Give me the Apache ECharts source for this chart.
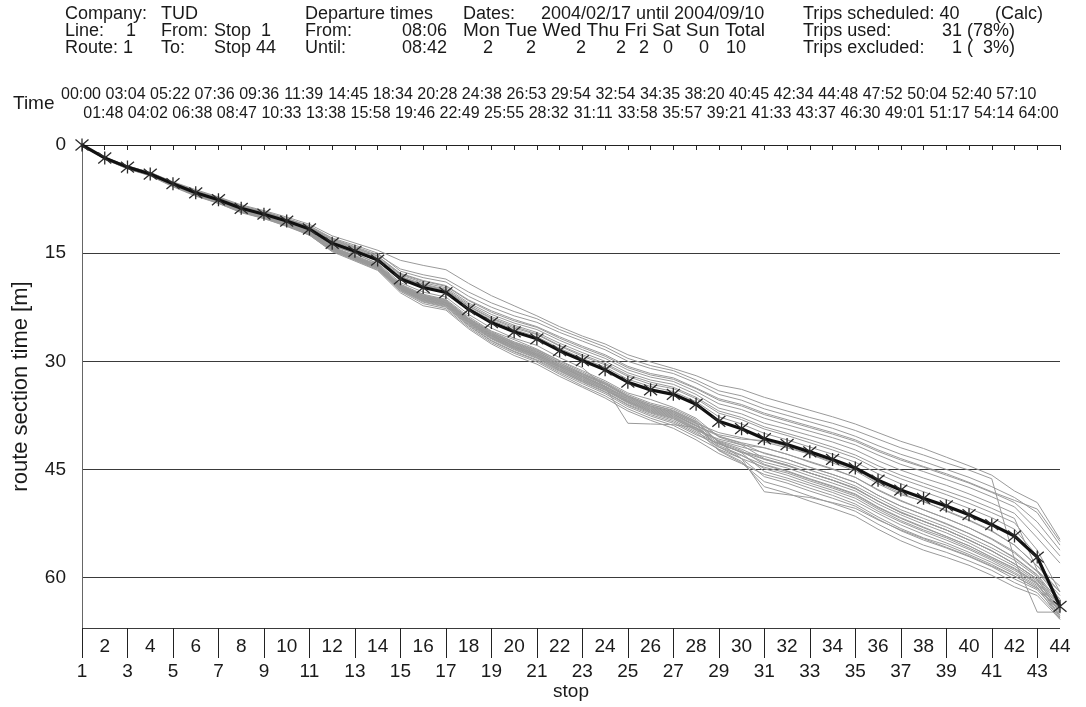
<!DOCTYPE html>
<html>
<head>
<meta charset="utf-8">
<script src="https://cdn.jsdelivr.net/npm/echarts@6.0.0/dist/echarts.min.js"></script>
<style>
  html, body { margin: 0; padding: 0; background: #ffffff; }
  #chart { width: 1086px; height: 707px; }
</style>
</head>
<body>
<div id="chart"></div>
<script>
// Stops along route 1 (x axis categories)
const stops = ['1','2','3','4','5','6','7','8','9','10','11','12','13','14','15','16','17','18','19','20','21','22',
  '23','24','25','26','27','28','29','30','31','32','33','34','35','36','37','38','39','40','41','42','43','44'];

// Average section time at each stop (mm:ss), also printed above the plot
const stopTimes = ['00:00','01:48','03:04','04:02','05:22','06:38','07:36','08:47','09:36','10:33','11:39',
  '13:38','14:45','15:58','18:34','19:46','20:28','22:49','24:38','25:55','26:53','28:32','29:54','31:11',
  '32:54','33:58','34:35','35:57','38:20','39:21','40:45','41:33','42:34','43:37','44:48','46:30','47:52',
  '49:01','50:04','51:17','52:40','54:14','57:10','64:00'];

const yTicks = [0, 15, 30, 45, 60];

// Individual trips: cumulative minutes at each stop
const tripU1 = [0,1.7,2.9,3.8,5.1,6.2,7.2,8.3,9.1,10.0,11.0,12.6,13.6,14.6,16.0,16.7,17.3,19.2,20.9,22.3,23.7,25.2,26.5,27.6,29.1,30.1,31.0,32.0,33.3,33.9,35.0,35.9,36.8,37.7,38.7,39.9,41.1,42.1,43.3,44.5,45.8,48.0,49.6,54.7];
const tripU2 = [0,1.8,3.0,3.9,5.2,6.4,7.3,8.5,9.3,10.2,11.3,13.0,14.1,15.2,17.2,18.0,18.6,20.4,21.9,23.1,24.1,25.6,26.8,28.0,29.6,30.6,31.3,32.6,34.1,34.8,36.0,36.9,37.8,38.6,39.6,40.8,42.0,43.0,44.1,45.1,46.3,57.5,64.8,64.8];
const tripU3 = [0,1.7,3.0,3.8,5.2,6.3,7.3,8.4,9.2,10.2,11.2,12.9,13.9,15.0,17.5,18.4,19.0,21.0,22.5,23.7,24.6,26.0,27.2,28.4,30.0,31.0,31.7,33.0,34.6,35.4,36.6,37.5,38.4,39.3,40.4,41.7,42.9,43.9,45.0,46.1,47.4,48.9,51.0,55.5];
const tripU4 = [0,1.9,3.1,4.0,5.3,6.5,7.4,8.6,9.4,10.3,11.4,13.2,14.3,15.4,17.9,18.9,19.6,21.6,23.2,24.4,25.3,26.8,28.1,29.3,30.9,31.9,32.5,33.8,35.4,36.2,37.4,38.3,39.2,40.1,41.1,42.5,43.7,44.7,45.8,46.9,48.2,49.6,52.3,56.2];
const tripU5 = [0,1.8,3.0,3.9,5.3,6.5,7.5,8.6,9.5,10.4,11.5,13.3,14.4,15.6,18.0,19.1,19.8,21.9,23.5,24.7,25.6,27.1,28.4,29.6,31.2,32.2,32.8,34.2,35.9,36.7,37.9,38.8,39.7,40.6,41.6,43.0,44.3,45.3,46.4,47.5,48.8,50.2,53.4,57.0];
const tripU6 = [0,1.8,3.1,4.0,5.4,6.6,7.6,8.7,9.5,10.5,11.6,13.4,14.5,15.7,18.2,19.3,20.0,22.1,23.8,25.0,26.0,27.5,28.8,30.0,31.6,32.6,33.2,34.6,36.5,37.3,38.6,39.4,40.3,41.2,42.3,43.8,45.1,46.2,47.2,48.4,49.7,51.1,54.5,58.0];
const tripU7 = [0,1.7,2.9,3.9,5.2,6.4,7.4,8.5,9.3,10.3,11.4,13.1,14.2,15.4,17.8,18.8,19.5,21.5,23.0,24.2,25.2,26.6,27.9,29.1,30.7,31.7,32.3,33.7,35.2,36.0,37.2,38.1,39.0,39.9,40.9,42.3,43.5,44.6,45.6,46.8,48.1,49.3,50.5,55.0];
const tripU8 = [0,1.9,3.2,4.1,5.5,6.7,7.7,8.8,9.7,10.6,11.7,13.5,14.6,15.8,18.3,19.4,20.1,22.3,24.0,25.2,26.2,27.8,29.1,30.3,31.9,32.9,33.6,35.0,36.9,37.8,39.1,40.0,40.9,41.9,43.0,44.5,45.8,46.9,48.0,49.1,50.4,51.8,59.0,62.0];
const tripU9 = [0,1.8,3.0,4.0,5.3,6.6,7.6,8.7,9.6,10.5,11.6,13.5,14.6,15.8,18.3,19.5,20.2,22.4,24.1,25.4,26.3,27.9,29.3,30.5,32.1,33.2,33.8,35.2,37.2,38.1,39.4,40.3,41.3,42.3,43.4,45.0,46.3,47.4,48.5,49.7,51.0,52.4,56.2,62.0];
const tripU10 = [0,1.8,3.1,4.1,5.4,6.6,7.6,8.8,9.6,10.6,11.7,13.6,14.8,16.0,18.5,19.6,20.3,22.6,24.3,25.6,26.6,28.2,29.6,30.8,32.5,33.5,34.2,35.6,37.7,38.7,40.0,40.9,41.9,42.9,44.0,45.6,47.0,48.1,49.2,50.4,51.7,53.3,57.0,63.5];
const tripL1 = [0,1.9,3.2,4.1,5.5,6.6,7.8,9.0,9.9,10.9,12.0,14.0,15.0,16.5,19.3,20.7,21.4,23.8,25.8,27.0,28.3,29.9,31.3,32.7,34.4,35.3,36.4,37.9,40.5,41.6,43.5,44.4,45.5,46.5,47.6,49.4,50.9,52.2,53.4,54.8,56.3,58.1,60.3,65.0];
const tripL2 = [0,1.8,3.1,4.0,5.5,6.7,7.7,8.9,9.8,10.8,12.0,14.1,15.3,16.6,19.4,20.8,21.5,24.0,25.9,27.3,28.4,30.0,31.5,32.9,34.6,35.8,36.6,38.1,41.3,42.7,45.3,46.2,47.2,48.2,49.4,51.1,52.7,54.0,55.2,56.5,57.9,59.5,61.3,65.8];
const tripL3 = [0,1.9,3.2,4.2,5.6,6.9,7.9,9.1,10.0,11.0,12.1,14.2,15.4,16.7,19.5,20.9,21.6,24.1,26.0,27.4,28.5,30.2,31.7,33.0,34.8,36.0,36.8,38.3,40.4,41.4,42.8,43.6,44.7,45.7,46.8,48.6,50.1,51.3,52.6,53.9,55.4,57.3,59.7,64.0];
const tripL4 = [0,1.8,3.1,4.1,5.5,6.8,7.8,9.0,9.9,10.9,12.1,14.2,15.5,16.7,19.6,21.0,21.7,24.2,26.2,27.6,28.7,30.4,31.8,33.2,34.9,36.2,37.0,38.5,42.3,43.9,47.4,48.3,49.4,50.4,51.5,53.3,54.9,56.2,57.2,58.3,59.7,61.3,62.5,65.8];
const tripL5 = [0,1.9,3.2,4.1,5.6,6.8,7.9,9.1,10.0,11.0,12.1,14.2,15.5,16.7,19.6,21.0,21.8,24.2,26.2,27.6,28.8,30.4,31.9,33.2,35.0,36.2,37.1,38.6,39.9,40.6,41.2,42.0,42.9,44.1,45.2,47.0,48.5,49.4,50.8,52.1,53.6,55.5,58.4,61.2];
const tripL6 = [0,1.8,3.2,4.1,5.6,6.9,7.9,9.1,10.0,11.0,12.2,14.3,15.5,16.8,19.6,21.1,21.8,24.3,26.3,27.7,28.9,30.5,32.0,33.4,35.1,36.3,37.2,38.7,41.2,42.4,44.3,45.2,46.3,47.3,48.4,50.2,51.7,53.0,54.3,55.6,57.2,58.8,60.8,63.8];
const tripL7 = [0,1.9,3.2,4.2,5.6,6.9,7.9,9.1,10.0,11.0,12.2,14.3,15.6,16.8,19.7,21.2,21.9,24.4,26.4,27.8,29.0,30.6,32.1,33.5,35.2,36.4,37.3,38.9,40.4,41.3,42.0,42.9,43.9,44.9,46.1,47.8,49.3,50.6,51.8,53.1,54.6,56.4,59.1,62.5];
const tripL8 = [0,1.8,3.1,4.1,5.5,6.8,7.9,9.1,10.0,11.1,12.2,14.3,15.6,16.9,19.7,21.2,21.9,24.4,26.4,27.9,29.0,30.7,32.1,33.5,35.3,36.5,37.4,38.9,41.9,43.5,46.0,46.9,48.0,49.0,50.1,51.9,53.5,54.8,55.9,57.1,58.5,60.2,61.7,65.2];
const tripL9 = [0,1.9,3.2,4.2,5.6,6.9,7.9,9.2,10.0,11.0,12.2,14.3,15.6,16.9,19.8,21.2,21.9,24.5,26.5,27.9,29.1,30.7,32.2,33.6,35.4,36.6,37.5,39.0,40.2,40.8,41.0,41.8,42.9,43.9,45.0,46.8,48.3,49.5,50.7,52.0,53.5,55.5,58.4,62.0];
const tripL10 = [0,1.8,3.2,4.2,5.6,6.9,7.9,9.2,10.0,11.1,12.2,14.4,15.6,16.9,19.8,21.3,22.0,24.5,26.5,28.0,29.2,30.8,32.3,33.7,35.5,36.7,37.6,39.2,41.1,42.2,43.6,44.5,45.5,46.5,47.7,49.4,51.0,52.2,53.4,54.8,56.3,58.1,60.2,63.0];
const tripL11 = [0,1.9,3.2,4.2,5.7,6.9,8.0,9.2,10.0,11.1,12.3,14.4,15.7,16.9,19.8,21.4,22.1,24.6,26.6,28.1,29.2,30.9,32.4,33.8,35.6,36.8,37.7,39.3,41.7,43.0,44.9,45.8,46.9,47.9,49.0,50.8,52.3,53.6,54.8,56.1,57.6,59.3,61.1,64.2];
const tripL12 = [0,1.8,3.1,4.1,5.6,6.9,8.0,9.2,10.1,11.1,12.3,14.4,15.7,17.0,19.9,21.4,22.1,24.6,26.7,28.1,29.3,31.0,32.5,33.9,35.6,36.9,37.8,39.4,41.0,41.9,42.7,43.6,44.7,45.7,46.8,48.6,50.1,51.3,52.5,53.9,55.4,57.2,59.6,63.5];
const tripL13 = [0,1.9,3.2,4.2,5.7,7.0,8.0,9.2,10.1,11.1,12.3,14.4,15.7,17.0,19.9,21.5,22.2,24.7,26.8,28.2,29.4,31.1,32.6,34.0,35.7,37.0,37.9,39.5,42.4,44.1,46.7,47.6,48.7,49.7,50.8,52.6,54.2,55.5,56.5,57.7,59.0,60.7,62.1,65.6];
const tripL14 = [0,1.9,3.2,4.2,5.7,7.0,8.0,9.2,10.1,11.1,12.3,14.5,15.8,17.0,20.0,21.5,22.2,24.8,26.8,28.3,29.5,31.2,32.7,34.0,35.8,37.1,38.0,39.6,40.8,41.6,42.0,42.9,44.0,45.0,46.1,47.9,49.4,50.6,51.8,53.1,54.7,56.6,59.2,63.0];
const tripL15 = [0,1.9,3.2,4.2,5.7,7.0,8.0,9.3,10.1,11.1,12.3,14.5,15.8,17.1,20.0,21.6,22.3,24.9,26.9,28.4,29.6,31.3,32.8,34.2,36.0,37.2,38.2,39.8,41.5,42.6,43.6,44.4,45.5,46.5,47.6,49.4,51.0,52.2,53.4,54.8,56.3,58.1,60.2,64.8];
const tripL16 = [0,1.9,3.3,4.2,5.7,7.0,8.0,9.3,10.1,11.2,12.4,14.6,15.9,17.1,20.1,21.7,22.4,25.0,27.1,28.6,29.8,31.4,32.9,34.3,36.1,37.4,38.4,40.0,41.9,43.1,44.4,45.3,46.4,47.4,48.5,50.3,51.8,53.1,54.3,55.6,57.2,58.7,60.7,65.3];
const tripL17 = [0,1.9,3.2,4.2,5.7,7.0,8.0,9.3,10.1,11.2,12.4,14.6,15.9,17.2,20.2,21.8,22.5,25.1,27.2,28.7,29.9,31.6,33.1,34.5,36.3,37.6,38.6,40.2,41.4,42.6,43.2,44.1,45.1,46.1,47.3,49.0,50.6,51.8,53.0,54.4,55.9,57.6,59.9,64.5];
const tripL18 = [0,1.9,3.3,4.2,5.7,7.0,8.1,9.3,10.2,11.2,12.5,14.7,16.0,17.3,20.3,22.0,22.7,25.3,27.4,28.9,30.1,31.8,33.4,34.8,36.6,37.9,38.9,40.5,42.2,43.5,44.7,45.5,46.6,47.6,48.7,50.5,52.1,53.4,54.5,55.9,57.4,59.0,60.9,65.5];
const tripL19 = [0,2.0,3.3,4.3,5.8,7.1,8.1,9.4,10.2,11.3,12.5,14.8,16.1,17.4,20.5,22.3,22.9,25.5,27.6,29.2,30.4,32.1,33.6,35.1,36.9,38.2,39.3,40.9,42.8,44.2,45.7,46.5,47.6,48.6,49.8,51.6,53.2,54.5,55.5,56.8,58.2,59.8,61.5,64.6];
const tripO1 = [0,1.8,3.1,4.1,5.5,6.7,7.7,8.9,9.8,10.7,11.9,13.9,15.1,16.4,19.1,20.4,21.1,23.5,25.4,26.8,27.8,29.5,30.9,33.6,38.6,38.7,38.8,39.2,41.4,42.6,44.0,44.8,45.9,46.9,48.0,49.8,51.3,52.6,53.8,55.2,56.8,58.4,60.5,63.5];
const tripO2 = [0,1.9,3.2,4.1,5.6,6.8,7.8,9.1,9.9,10.9,12.1,14.2,15.4,16.7,19.5,20.9,21.6,24.1,26.1,27.5,28.6,30.2,31.7,33.1,34.8,36.0,36.9,38.4,41.2,43.5,48.1,48.5,48.9,49.6,50.4,52.0,53.4,54.6,55.8,57.0,58.4,59.8,61.5,64.4];

const trips = [tripU1, tripU2, tripU3, tripU4, tripU5, tripU6, tripU7, tripU8, tripU9, tripU10,
  tripL1, tripL2, tripL3, tripL4, tripL5, tripL6, tripL7, tripL8, tripL9, tripL10,
  tripL11, tripL12, tripL13, tripL14, tripL15, tripL16, tripL17, tripL18, tripL19,
  tripO1, tripO2];

// Average line: the printed times converted to minutes
const avgMinutes = stopTimes.map(t => {
  const [m, s] = t.split(':').map(Number);
  return +(m + s / 60).toFixed(3);
});

// Weekday trip counts in the header
const dayNames = 'Mon Tue Wed Thu Fri Sat Sun Total';
const dayCounts = ['2', '2', '2', '2', '2', '0', '0', '10'];

const FONT = '"Liberation Sans", Arial, Helvetica, sans-serif';
const INK = '#1a1a1a';

function label(x, y, text, size, align) {
  const a = align || 'left';
  return {
    type: 'text', x: x, y: y, silent: true,
    style: {
      text: text, font: size + 'px ' + FONT, fill: INK,
      align: a, verticalAlign: 'middle', textAlign: a, textVerticalAlign: 'middle'
    }
  };
}

// Header block
const R1 = 14, R2 = 31, R3 = 48;
const header = [
  label(65, R1, 'Company:', 18), label(161, R1, 'TUD', 18),
  label(65, R2, 'Line:', 18), label(126, R2, '1', 18),
  label(161, R2, 'From:', 18), label(214, R2, 'Stop  1', 18),
  label(65, R3, 'Route: 1', 18), label(161, R3, 'To:', 18), label(214, R3, 'Stop 44', 18),
  label(305, R1, 'Departure times', 18),
  label(305, R2, 'From:', 18), label(447, R2, '08:06', 18, 'right'),
  label(305, R3, 'Until:', 18), label(447, R3, '08:42', 18, 'right'),
  label(463, R1, 'Dates:', 18), label(541, R1, '2004/02/17 until 2004/09/10', 18),
  label(463, R2, dayNames, 19),
  label(803, R1, 'Trips scheduled: 40', 18), label(1043, R1, '(Calc)', 18, 'right'),
  label(803, R2, 'Trips used:', 18), label(1015, R2, '31 (78%)', 18, 'right'),
  label(803, R3, 'Trips excluded:', 18), label(1015, R3, '1 (  3%)', 18, 'right'),
  label(13, 104, 'Time', 19)
];
const dayCountX = [488, 531, 581, 621, 644, 668, 704, 736];
dayCounts.forEach((v, i) => header.push(label(dayCountX[i], R3, v, 18, 'center')));

const symbolAsterisk = 'path://M0,0L10,10M10,0L0,10M5,-1L5,11';

const series = trips.map(t => ({
  type: 'line',
  data: t,
  xAxisIndex: 0, yAxisIndex: 0,
  symbol: 'none',
  silent: true,
  lineStyle: { color: '#9a9a9a', width: 1 },
  z: 2
}));
series.push({
  type: 'line',
  data: avgMinutes,
  xAxisIndex: 0, yAxisIndex: 0,
  symbol: symbolAsterisk,
  symbolSize: 13,
  showSymbol: true,
  clip: false,
  silent: true,
  lineStyle: { color: '#111111', width: 3.2 },
  itemStyle: { color: 'rgba(0,0,0,0)', borderColor: '#2a2a2a', borderWidth: 1.3 },
  z: 5
});

const chart = echarts.init(document.getElementById('chart'), null, { renderer: 'canvas' });
chart.setOption({
  animation: false,
  backgroundColor: '#ffffff',
  textStyle: { fontFamily: FONT, color: INK },
  grid: [
    { left: 82, right: 26, top: 145, height: 483 },
    { left: 81, top: 130, width: 957.6, height: 1 }
  ],
  xAxis: [
    {
      gridIndex: 0, type: 'category', data: stops, boundaryGap: false, position: 'bottom',
      axisLine: { lineStyle: { color: '#222', width: 1 } },
      axisTick: { show: true, interval: 0, length: 5, lineStyle: { color: '#222' } },
      axisLabel: { interval: (i) => i % 2 === 1, margin: 9, fontSize: 19, color: INK, fontFamily: FONT },
      splitLine: { show: false },
      name: 'stop', nameLocation: 'middle', nameGap: 54,
      nameTextStyle: { fontSize: 19, color: INK, fontFamily: FONT }
    },
    {
      gridIndex: 0, type: 'category', data: stops, boundaryGap: false, position: 'bottom',
      axisLine: { show: false },
      axisTick: { show: true, interval: (i) => i % 2 === 0, length: 30, lineStyle: { color: '#222' } },
      axisLabel: { interval: (i) => i % 2 === 0, margin: 34, fontSize: 19, color: INK, fontFamily: FONT },
      splitLine: { show: false }
    },
    {
      gridIndex: 1, type: 'category', data: stopTimes, boundaryGap: false, position: 'top',
      axisLine: { show: false }, axisTick: { show: false },
      axisLabel: { interval: (i) => i % 2 === 0, margin: 27, fontSize: 16, color: INK, fontFamily: FONT }
    },
    {
      gridIndex: 1, type: 'category', data: stopTimes, boundaryGap: false, position: 'top',
      axisLine: { show: false }, axisTick: { show: false },
      axisLabel: { interval: (i) => i % 2 === 1, margin: 8, fontSize: 16, color: INK, fontFamily: FONT }
    }
  ],
  yAxis: [
    {
      gridIndex: 0, type: 'value', inverse: true, min: 0, max: 67, interval: 15,
      axisLine: { show: true, lineStyle: { color: '#666', width: 1 } },
      axisTick: { show: false },
      splitLine: { show: true, lineStyle: { color: '#3a3a3a', width: 1 } },
      axisLabel: {
        margin: 16, fontSize: 19, color: INK, fontFamily: FONT,
        formatter: (v) => (yTicks.indexOf(v) >= 0 ? String(v) : '')
      },
      name: 'route section time [m]', nameLocation: 'middle', nameGap: 50,
      nameTextStyle: { fontSize: 22, color: INK, fontFamily: FONT }
    },
    { gridIndex: 1, type: 'value', show: false }
  ],
  graphic: header,
  series: series
});
</script>
</body>
</html>
